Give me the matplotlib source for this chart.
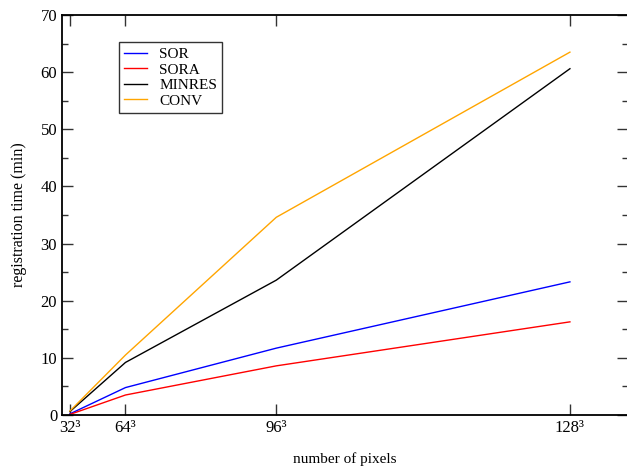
import numpy as np
import matplotlib
matplotlib.use("Agg")
import matplotlib.pyplot as plt

# Grid sizes (pixels per side) and total number of pixels
sides = [32, 64, 96, 128]
npix = [s**3 for s in sides]
xlabels = ["32³", "64³", "96³", "128³"]

# Registration time (min)
sor = [0.2, 4.8, 11.7, 23.3]
sora = [0.1, 3.5, 8.6, 16.3]
minres = [0.6, 9.2, 23.6, 60.6]
conv = [0.7, 10.5, 34.6, 63.5]

plt.rcParams['font.family'] = ['Liberation Serif', 'DejaVu Serif']

fig = plt.figure(figsize=(6.27, 4.66), dpi=100)
ax = fig.add_axes([62/627, 51/466, 566/627, 400/466])

ax.plot(npix, sor, color='blue', lw=1, label='SOR')
ax.plot(npix, sora, color='red', lw=1, label='SORA')
ax.plot(npix, minres, color='black', lw=1, label='MINRES')
ax.plot(npix, conv, color='orange', lw=1, label='CONV')

ax.set_xlim(0, 566 * 4128.8)
ax.set_ylim(0, 70)
ax.set_xticks(npix)
ax.set_xticklabels(xlabels)
ax.set_yticks(np.arange(0, 71, 10))
ax.set_yticks(np.arange(5, 70, 10), minor=True)
ax.tick_params(which='both', direction='in', top=True, right=True,
               labelsize=12, width=1, color='#333333')
ax.tick_params(which='major', length=8)
ax.tick_params(which='minor', length=4)
for sp in ax.spines.values():
    sp.set_linewidth(1.3)

ax.set_xlabel("number of pixels", fontsize=11)
ax.xaxis.set_label_coords(0.5, -0.093)
ax.set_ylabel("registration time (min)", fontsize=11.5, labelpad=10)

leg = ax.legend(loc='upper left', bbox_to_anchor=(0.1, 0.932), fontsize=11,
                fancybox=False, edgecolor='#333333', framealpha=1,
                handlelength=1.5, handletextpad=0.8, borderpad=0.35,
                labelspacing=0.12, borderaxespad=0)
leg.get_frame().set_linewidth(1)

fig.savefig("out.png", dpi=100)
